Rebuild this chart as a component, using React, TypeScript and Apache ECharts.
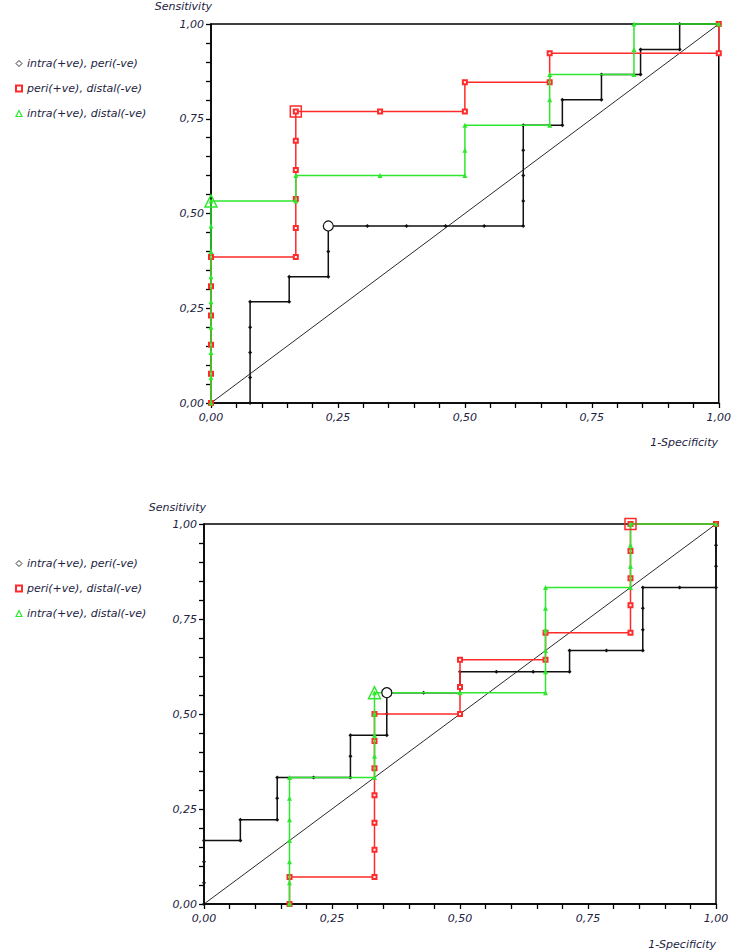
import React, { useEffect, useRef } from "react";
import * as echarts from "echarts";

// ---- Data (1-Specificity, Sensitivity) ----
const seriesNames = ["intra(+ve), peri(-ve)", "peri(+ve), distal(-ve)", "intra(+ve), distal(-ve)"];

const topBlack: number[][] = [
  [0, 0], [0.077, 0], [0.077, 0.067], [0.077, 0.133], [0.077, 0.2], [0.077, 0.267],
  [0.154, 0.267], [0.154, 0.333], [0.231, 0.333], [0.231, 0.4], [0.231, 0.467],
  [0.308, 0.467], [0.385, 0.467], [0.462, 0.467], [0.538, 0.467], [0.615, 0.467],
  [0.615, 0.533], [0.615, 0.6], [0.615, 0.667], [0.615, 0.733], [0.692, 0.733],
  [0.692, 0.8], [0.769, 0.8], [0.769, 0.867], [0.846, 0.867], [0.846, 0.933],
  [0.923, 0.933], [0.923, 1], [1, 1],
];
const topRed: number[][] = [
  [0, 0], [0, 0.077], [0, 0.154], [0, 0.231], [0, 0.308], [0, 0.385],
  [0.167, 0.385], [0.167, 0.462], [0.167, 0.538], [0.167, 0.615], [0.167, 0.692],
  [0.167, 0.769], [0.333, 0.769], [0.5, 0.769], [0.5, 0.846], [0.667, 0.846],
  [0.667, 0.923], [1, 0.923], [1, 1],
];
const topGreen: number[][] = [
  [0, 0], [0, 0.067], [0, 0.133], [0, 0.2], [0, 0.267], [0, 0.333], [0, 0.4],
  [0, 0.467], [0, 0.533], [0.167, 0.533], [0.167, 0.6], [0.333, 0.6], [0.5, 0.6],
  [0.5, 0.667], [0.5, 0.733], [0.667, 0.733], [0.667, 0.8], [0.667, 0.867],
  [0.833, 0.867], [0.833, 0.933], [0.833, 1], [1, 1],
];
const topBest: number[][] = [[0.231, 0.467], [0.167, 0.769], [0, 0.533]];

const bottomBlack: number[][] = [
  [0, 0], [0, 0.056], [0, 0.111], [0, 0.167], [0.071, 0.167], [0.071, 0.222],
  [0.143, 0.222], [0.143, 0.278], [0.143, 0.333], [0.214, 0.333], [0.286, 0.333],
  [0.286, 0.389], [0.286, 0.444], [0.357, 0.444], [0.357, 0.5], [0.357, 0.556],
  [0.429, 0.556], [0.5, 0.556], [0.5, 0.611], [0.571, 0.611], [0.643, 0.611],
  [0.714, 0.611], [0.714, 0.667], [0.786, 0.667], [0.857, 0.667], [0.857, 0.722],
  [0.857, 0.778], [0.857, 0.833], [0.929, 0.833], [1, 0.833], [1, 0.889],
  [1, 0.944], [1, 1],
];
const bottomRed: number[][] = [
  [0.167, 0], [0.167, 0.071], [0.333, 0.071], [0.333, 0.143], [0.333, 0.214],
  [0.333, 0.286], [0.333, 0.357], [0.333, 0.429], [0.333, 0.5], [0.5, 0.5],
  [0.5, 0.571], [0.5, 0.643], [0.667, 0.643], [0.667, 0.714], [0.833, 0.714],
  [0.833, 0.786], [0.833, 0.857], [0.833, 0.929], [0.833, 1], [1, 1],
];
const bottomGreen: number[][] = [
  [0.167, 0], [0.167, 0.056], [0.167, 0.111], [0.167, 0.167], [0.167, 0.222],
  [0.167, 0.278], [0.167, 0.333], [0.333, 0.333], [0.333, 0.389], [0.333, 0.444],
  [0.333, 0.5], [0.333, 0.556], [0.5, 0.556], [0.667, 0.556], [0.667, 0.611],
  [0.667, 0.667], [0.667, 0.722], [0.667, 0.778], [0.667, 0.833], [0.833, 0.833],
  [0.833, 0.889], [0.833, 0.944], [0.833, 1], [1, 1],
];
const bottomBest: number[][] = [[0.357, 0.556], [0.833, 1], [0.333, 0.556]];

const diagonal: number[][] = [[0, 0], [1, 1]];

const BLACK = "#111111";
const RED = "#ff2a2a";
const GREEN = "#2ee82e";
const TEXT = "#23233f";
const FONT = "DejaVu Sans";
const CLEAR = "rgba(0,0,0,0)";

const fmt = (v: number) => v.toFixed(2).replace(".", ",");

function makeAxis(idx: number, isX: boolean) {
  return {
    type: "value",
    gridIndex: idx,
    min: 0,
    max: 1,
    interval: 0.25,
    axisLine: { show: true, lineStyle: { color: "#000", width: 1.5 } },
    axisTick: { show: true, length: 5, lineStyle: { color: "#000", width: 1.3 } },
    minorTick: { show: true, splitNumber: 5, length: 5, lineStyle: { color: "#000", width: 1.3 } },
    splitLine: { show: false },
    minorSplitLine: { show: false },
    axisLabel: {
      formatter: fmt,
      fontFamily: FONT,
      fontStyle: "italic",
      fontSize: 11,
      color: TEXT,
      margin: isX ? 9 : 7,
    },
  };
}

function rocSeries(idx: number, black: number[][], red: number[][], green: number[][], best: number[][]) {
  const common = { type: "line", xAxisIndex: idx, yAxisIndex: idx, clip: false, showSymbol: true, animation: false };
  const scatter = { type: "scatter", xAxisIndex: idx, yAxisIndex: idx, clip: false, z: 5 };
  return [
    {
      ...common,
      name: "diag" + idx,
      data: diagonal,
      showSymbol: false,
      symbol: "none",
      lineStyle: { color: "#2a2a2a", width: 1 },
      z: 1,
    },
    {
      ...common,
      name: seriesNames[0],
      data: black,
      symbol: "diamond",
      symbolSize: 4,
      itemStyle: { color: BLACK },
      lineStyle: { color: BLACK, width: 1.5 },
      z: 2,
    },
    {
      ...common,
      name: seriesNames[1],
      data: red,
      symbol: "emptyRect",
      symbolSize: 4,
      itemStyle: { color: RED, borderColor: RED, borderWidth: 1 },
      lineStyle: { color: RED, width: 1.5 },
      z: 3,
    },
    {
      ...common,
      name: seriesNames[2],
      data: green,
      symbol: "triangle",
      symbolSize: 5,
      itemStyle: { color: GREEN },
      lineStyle: { color: GREEN, width: 1.5 },
      z: 4,
    },
    {
      ...scatter,
      name: "best0-" + idx,
      data: [best[0]],
      symbol: "circle",
      symbolSize: 10,
      itemStyle: { color: "#fff", borderColor: BLACK, borderWidth: 1.2, opacity: 1 },
    },
    {
      ...scatter,
      name: "best1-" + idx,
      data: [best[1]],
      symbol: "rect",
      symbolSize: 11,
      itemStyle: { color: CLEAR, borderColor: RED, borderWidth: 1.5, opacity: 1 },
    },
    {
      ...scatter,
      name: "best2-" + idx,
      data: [best[2]],
      symbol: "triangle",
      symbolSize: 12,
      itemStyle: { color: CLEAR, borderColor: GREEN, borderWidth: 1.5, opacity: 1 },
    },
  ];
}

function makeLegend(top: number) {
  return {
    orient: "vertical",
    left: 10,
    top,
    itemWidth: 6,
    itemHeight: 6,
    itemGap: 14,
    selectedMode: false,
    textStyle: { fontFamily: FONT, fontStyle: "italic", fontSize: 11, color: TEXT },
    data: [
      { name: seriesNames[0], icon: "diamond", itemStyle: { color: "#fff", borderColor: "#333", borderWidth: 1 } },
      { name: seriesNames[1], icon: "emptyRect" },
      { name: seriesNames[2], icon: "triangle", itemStyle: { color: "#fff", borderColor: GREEN, borderWidth: 1.2 } },
    ],
  };
}

function textEl(text: string, x: number, y: number) {
  return {
    type: "text",
    x,
    y,
    style: {
      text,
      align: "right",
      verticalAlign: "middle",
      fill: TEXT,
      font: `italic 11px "${FONT}"`,
    },
  };
}

export default function App() {
  const ref = useRef<HTMLDivElement>(null);
  useEffect(() => {
    if (!ref.current) return;
    const chart = echarts.init(ref.current, undefined, { renderer: "svg" });
    chart.setOption({
      animation: false,
      backgroundColor: "#fff",
      grid: [
        { left: 211, top: 24, width: 509, height: 379, show: true, borderColor: "#000", borderWidth: 1.5, backgroundColor: "transparent" },
        { left: 204, top: 524, width: 512, height: 380, show: true, borderColor: "#000", borderWidth: 1.5, backgroundColor: "transparent" },
      ],
      xAxis: [makeAxis(0, true), makeAxis(1, true)],
      yAxis: [makeAxis(0, false), makeAxis(1, false)],
      legend: [makeLegend(53), makeLegend(553)],
      graphic: [
        textEl("Sensitivity", 212, 6),
        textEl("1-Specificity", 718, 442),
        textEl("Sensitivity", 206, 507),
        textEl("1-Specificity", 716, 944),
      ],
      series: [
        ...rocSeries(0, topBlack, topRed, topGreen, topBest),
        ...rocSeries(1, bottomBlack, bottomRed, bottomGreen, bottomBest),
      ],
    });
    return () => chart.dispose();
  }, []);
  return (
    <div
      ref={ref}
      style={{ position: "fixed", left: 0, top: 0, width: 734, height: 952, background: "#fff" }}
    />
  );
}
